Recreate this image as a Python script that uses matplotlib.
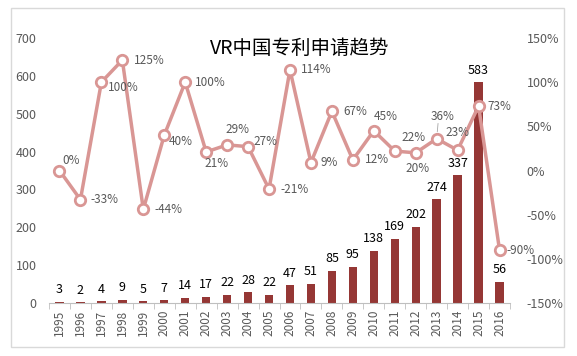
import matplotlib
matplotlib.use('Agg')
import matplotlib.pyplot as plt
from matplotlib.patches import Rectangle
from matplotlib.ticker import FuncFormatter, MultipleLocator

plt.rcParams['font.family'] = ['Noto Sans CJK SC', 'DejaVu Sans']

# data
years = [str(y) for y in range(1995, 2017)]
patents = [3, 2, 4, 9, 5, 7, 14, 17, 22, 28, 22, 47, 51, 85, 95, 138, 169, 202, 274, 337, 583, 56]
growth = [0, -33, 100, 125, -44, 40, 100, 21, 29, 27, -21, 114, 9, 67, 12, 45, 22, 20, 36, 23, 73, -90]

# where each percentage label sits relative to its point (points)
label_offset = [(2, 7), (7, 0), (4.5, -4), (8, 0), (8, 0), (3, -4.5), (7, 0), (-1, -8), (-1.5, 11),
                (4, 4), (8, 0), (8, 0), (7, 0), (8, 0), (8.5, 0), (0, 10), (4.5, 10), (-7, -11),
                (-4, 16), (-9, 13), (6.5, 0), (5, 0)]

bar_color = '#953735'
line_color = '#d99694'
text_grey = '#595959'

fig = plt.figure(figsize=(5.77, 3.56), dpi=100)
fig.patches.append(Rectangle((11 / 577, 1 - 347 / 356), 553 / 577, 339 / 356,
                             transform=fig.transFigure, fill=False, edgecolor='#d9d9d9', lw=1))

ax = fig.add_axes([49 / 577, 1 - 303 / 356, 461 / 577, 265 / 356])
x = list(range(len(years)))
ax.bar(x, patents, width=0.4, color=bar_color, zorder=2)
for xi, v in zip(x, patents):
    ax.annotate(str(v), (xi, v), xytext=(0, 4), textcoords='offset points',
                ha='center', va='bottom', fontsize=9, color='black')

ax.set_xlim(-0.5, len(years) - 0.5)
ax.set_ylim(0, 700)
ax.yaxis.set_major_locator(MultipleLocator(100))
ax.set_xticks(x)
ax.set_xticklabels(years, rotation=90, fontsize=8.5, color=text_grey)
ax.set_xticks([i + 0.5 for i in range(-1, len(years))], minor=True)
ax.tick_params(axis='x', which='major', length=0, pad=5)
ax.tick_params(axis='x', which='minor', length=4, color='#bfbfbf', direction='out')
ax.tick_params(axis='y', length=0, labelsize=9, labelcolor=text_grey, pad=9)
for s in ['top', 'right', 'left']:
    ax.spines[s].set_visible(False)
ax.spines['bottom'].set_color('#bfbfbf')

ax2 = ax.twinx()
ax2.plot(x, growth, color=line_color, lw=2.5, marker='o', markersize=7.5,
         markerfacecolor='white', markeredgecolor=line_color, markeredgewidth=2, zorder=3)
for xi, v, (dx, dy) in zip(x, growth, label_offset):
    ax2.annotate(f'{v}%', (xi, v), xytext=(dx, dy), textcoords='offset points',
                 ha='left', va='center', fontsize=8.5, color=text_grey)
# small leader line for the 2013 label
i13 = years.index('2013')
ax2.annotate('', (i13, growth[i13]), xytext=(1, 11), textcoords='offset points',
             arrowprops=dict(arrowstyle='-', color='#a6a6a6', lw=0.6, shrinkA=0, shrinkB=5))
ax2.set_ylim(-150, 150)
ax2.yaxis.set_major_locator(MultipleLocator(50))
ax2.yaxis.set_major_formatter(FuncFormatter(lambda v, p: f'{int(v)}%'))
ax2.tick_params(axis='y', length=0, labelsize=9, labelcolor=text_grey, pad=12)
for s in ax2.spines.values():
    s.set_visible(False)

fig.text(300 / 577, 1 - 48 / 356, 'VR中国专利申请趋势', ha='center', va='center',
         fontsize=14, color='black')

plt.savefig('out.png', dpi=100)
